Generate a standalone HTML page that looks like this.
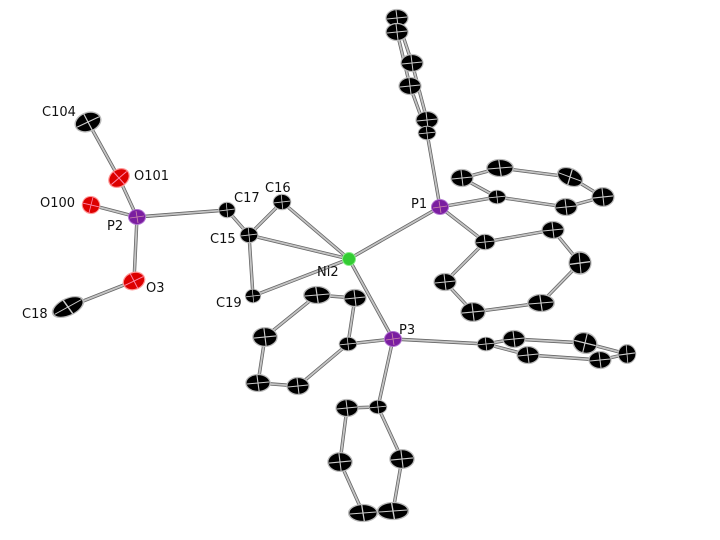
<!DOCTYPE html>
<html><head><style>
html,body{margin:0;padding:0;background:#fff;width:720px;height:540px;overflow:hidden}
text{font-family:"DejaVu Sans","Liberation Sans",sans-serif;font-size:13px;fill:#111}
</style></head><body>
<svg width="720" height="540" viewBox="0 0 720 540" xmlns="http://www.w3.org/2000/svg">
<defs>
<g id="a"><ellipse rx="11" ry="8.5" fill="#000" stroke="#bbb" stroke-width="1.2"/><path d="M-10 1 L10 -1 M-1 -8 L1 8" stroke="#ccc" stroke-width="1"/></g>
<g id="o"><ellipse rx="11" ry="8.5" fill="#d00" stroke="#f99" stroke-width="1.2"/><path d="M-10 1 L10 -1 M-1 -8 L1 8" stroke="#f8a" stroke-width="1"/></g>
<g id="p"><ellipse rx="8.5" ry="7.5" fill="#7a1ea0" stroke="#b070d0" stroke-width="1"/><path d="M-7 1 L7 -1 M-1 -6 L1 6" stroke="#c8a" stroke-width="0.8"/></g>
</defs>
<g stroke="#666" stroke-width="3.4" stroke-linecap="round" fill="none">
<path d="M88 122L119 178L137 217M91 205L137 217L134 281L68 307M137 217L227 210L249 235L282 202L349 259L249 235L253 296L349 259M349 259L440 207M349 259L393 339
M440 207L427 133L410 86L397 32M427 120L412 63L397 18
M440 207L497 197L462 178L500 168L570 177L603 197L566 207L497 197
M440 207L485 242L553 230L580 263L541 303L473 312L445 282L485 242
M393 339L486 344L514 339L585 343L627 354L600 360L528 355L486 344
M393 339L348 344L355 298L317 295L265 337L258 383L298 386L348 344
M393 339L378 407L347 408L340 462L363 513L393 511L402 459L378 407"/>
</g>
<g stroke="#c4c4c4" stroke-width="1.8" stroke-linecap="round" fill="none">
<path d="M88 122L119 178L137 217M91 205L137 217L134 281L68 307M137 217L227 210L249 235L282 202L349 259L249 235L253 296L349 259M349 259L440 207M349 259L393 339
M440 207L427 133L410 86L397 32M427 120L412 63L397 18
M440 207L497 197L462 178L500 168L570 177L603 197L566 207L497 197
M440 207L485 242L553 230L580 263L541 303L473 312L445 282L485 242
M393 339L486 344L514 339L585 343L627 354L600 360L528 355L486 344
M393 339L348 344L355 298L317 295L265 337L258 383L298 386L348 344
M393 339L378 407L347 408L340 462L363 513L393 511L402 459L378 407"/>
</g>
<use href="#a" transform="translate(88,122) rotate(-20) scale(1.2,1.1)"/>
<use href="#o" transform="translate(119,178) rotate(-35)"/>
<use href="#o" transform="translate(91,205) rotate(20) scale(0.8,1)"/>
<use href="#o" transform="translate(134,281) rotate(-20)"/>
<use href="#a" transform="translate(68,307) rotate(-25) scale(1.5,1)"/>
<use href="#p" transform="translate(137,217)"/>
<use href="#a" transform="translate(227,210) scale(0.75,0.9)"/>
<use href="#a" transform="translate(282,202) scale(0.8,0.9)"/>
<use href="#a" transform="translate(249,235) scale(0.8,0.9)"/>
<use href="#a" transform="translate(253,296) scale(0.7,0.8)"/>
<ellipse cx="349" cy="259" rx="6.5" ry="6.5" fill="#3c3" stroke="#8e8"/>
<use href="#p" transform="translate(440,207)"/>
<use href="#p" transform="translate(393,339)"/>
<use href="#a" transform="translate(397,18)"/><use href="#a" transform="translate(397,32)"/>
<use href="#a" transform="translate(412,63)"/><use href="#a" transform="translate(410,86)"/>
<use href="#a" transform="translate(427,120)"/><use href="#a" transform="translate(427,133) scale(0.8)"/>
<use href="#a" transform="translate(497,197) scale(0.8)"/><use href="#a" transform="translate(462,178)"/>
<use href="#a" transform="translate(500,168) scale(1.2,1)"/><use href="#a" transform="translate(570,177) rotate(25) scale(1.2,1)"/>
<use href="#a" transform="translate(603,197) scale(1,1.1)"/><use href="#a" transform="translate(566,207)"/>
<use href="#a" transform="translate(485,242) scale(0.9)"/><use href="#a" transform="translate(553,230)"/>
<use href="#a" transform="translate(580,263) scale(1,1.3)"/><use href="#a" transform="translate(541,303) scale(1.2,1)"/>
<use href="#a" transform="translate(473,312) scale(1.1,1.1)"/><use href="#a" transform="translate(445,282)"/>
<use href="#a" transform="translate(486,344) scale(0.8)"/><use href="#a" transform="translate(514,339)"/>
<use href="#a" transform="translate(585,343) rotate(20) scale(1.1,1.2)"/><use href="#a" transform="translate(627,354) scale(0.8,1.1)"/>
<use href="#a" transform="translate(600,360)"/><use href="#a" transform="translate(528,355)"/>
<use href="#a" transform="translate(348,344) scale(0.8)"/><use href="#a" transform="translate(355,298)"/>
<use href="#a" transform="translate(317,295) scale(1.2,1)"/><use href="#a" transform="translate(265,337) scale(1.1,1.1)"/>
<use href="#a" transform="translate(258,383) scale(1.1,1)"/><use href="#a" transform="translate(298,386)"/>
<use href="#a" transform="translate(378,407) scale(0.8)"/><use href="#a" transform="translate(347,408)"/>
<use href="#a" transform="translate(340,462) scale(1.1,1.1)"/><use href="#a" transform="translate(363,513) scale(1.3,1)"/>
<use href="#a" transform="translate(393,511) scale(1.4,1)"/><use href="#a" transform="translate(402,459) scale(1.1,1.1)"/>
<text x="42" y="116">C104</text>
<text x="134" y="180">O101</text>
<text x="40" y="207">O100</text>
<text x="107" y="230">P2</text>
<text x="234" y="202">C17</text>
<text x="265" y="192">C16</text>
<text x="210" y="243">C15</text>
<text x="317" y="276">Ni2</text>
<text x="146" y="292">O3</text>
<text x="216" y="307">C19</text>
<text x="22" y="318">C18</text>
<text x="411" y="208">P1</text>
<text x="399" y="334">P3</text>
</svg>
</body></html>
